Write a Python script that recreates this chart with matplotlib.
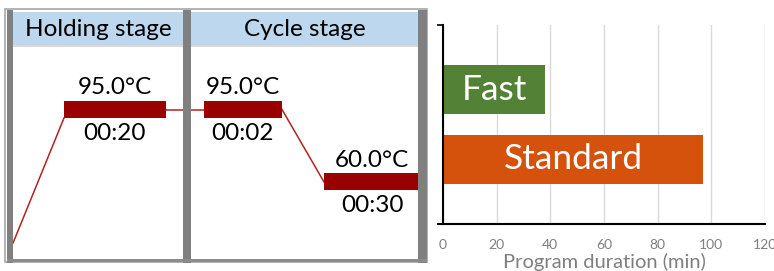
import matplotlib.pyplot as plt
from matplotlib.patches import Rectangle

plt.rcParams['font.family'] = ['Lato', 'DejaVu Sans']

# --- data ---
stage_names = ['Holding stage', 'Cycle stage']
step_temps = [95.0, 95.0, 60.0]
step_times = ['00:20', '00:02', '00:30']
start_temp = 30.5

programs = ['Standard', 'Fast']
durations = [97, 38]
program_colors = ['#D4520C', '#538135']
x_ticks = [0, 20, 40, 60, 80, 100, 120]

W, H = 774, 271
fig = plt.figure(figsize=(W / 100, H / 100), dpi=100, facecolor='white')


def px_axes(x0, y0, x1, y1, **kw):
    # axes placed with image pixel coordinates (origin top-left)
    return fig.add_axes([x0 / W, (H - y1) / H, (x1 - x0) / W, (y1 - y0) / H], **kw)


# background layer: header strip + stage titles
back = px_axes(0, 0, W, H, zorder=0)
back.set_xlim(0, W)
back.set_ylim(H, 0)
back.axis('off')
back.add_patch(Rectangle((5, 9), 422, 253, facecolor='white', edgecolor='#A6A6A6', lw=1.2))
back.add_patch(Rectangle((13, 12), 405, 33, facecolor='#BDD7EE', edgecolor='none'))
back.add_patch(Rectangle((13, 45), 405, 2, facecolor='#D9D9D9', edgecolor='none'))
stage_centers = [98, 305]
for name, cx in zip(stage_names, stage_centers):
    back.text(cx, 30, name, ha='center', va='center', fontsize=17.5, color='black')

# temperature profile
prof = px_axes(13, 47, 418, 259, zorder=1)
prof.patch.set_alpha(0)
prof.axis('off')
prof.set_xlim(13, 418)
px_per_deg = 2.071
prof.set_ylim(95 - (259 - 109.5) / px_per_deg, 95 + (109.5 - 47) / px_per_deg)
bar_h = 17 / px_per_deg
step_x = [(64, 166), (204, 282), (324, 430)]
red = '#990000'

# ramp and connecting lines
xs = [13, step_x[0][0]]
ys = [start_temp, step_temps[0] - bar_h / 2]
prof.plot(xs, ys, color='#B22222', lw=1.1, zorder=2)
for i in range(len(step_temps) - 1):
    prof.plot([step_x[i][1], step_x[i + 1][0]], [step_temps[i], step_temps[i + 1]],
              color='#B22222', lw=1.1, zorder=2)

for (x0, x1), t, tm in zip(step_x, step_temps, step_times):
    prof.barh(t, x1 - x0, left=x0, height=bar_h, color=red, zorder=3)
    cx = (x0 + min(x1, 420)) / 2
    prof.annotate(f'{t:.1f}°C', (cx, t), xytext=(0, 15.5), textcoords='offset points',
                  ha='center', va='center', fontsize=17.5, color='black')
    prof.annotate(tm, (cx, t), xytext=(0, -17), textcoords='offset points',
                  ha='center', va='center', fontsize=17.5, color='black')

# frame bars on top
front = px_axes(0, 0, W, H, zorder=2)
front.patch.set_alpha(0)
front.set_xlim(0, W)
front.set_ylim(H, 0)
front.axis('off')
for x0, x1 in [(7, 13), (183, 191), (418, 427)]:
    front.add_patch(Rectangle((x0, 10), x1 - x0, 252.5, facecolor='#808080', edgecolor='none'))
front.add_patch(Rectangle((7, 259), 420, 3, facecolor='#8C8C8C', edgecolor='none'))

# program duration chart
ax = px_axes(443, 25, 765, 224, zorder=1)
ypos = list(range(len(programs)))
ax.barh(ypos, durations, height=0.71, color=program_colors, zorder=2)
for y, d, name in zip(ypos, durations, programs):
    ax.text(d / 2, y, name, ha='center', va='center', color='white', fontsize=25.5, zorder=3)
ax.set_xlim(0, 120)
ax.set_ylim(-0.94, 1.94)
ax.set_xticks(x_ticks)
ax.set_xticklabels([str(v) for v in x_ticks])
ax.set_yticks([-0.94, 1.94])
ax.set_yticklabels([])
ax.tick_params(axis='y', length=4, width=1.2, direction='out', color='black')
ax.tick_params(axis='x', length=0, pad=11, labelsize=10, labelcolor='#7F7F7F')
ax.grid(axis='x', color='#D9D9D9', lw=1, zorder=0)
ax.set_axisbelow(True)
for s in ['top', 'right']:
    ax.spines[s].set_visible(False)
ax.spines['left'].set_linewidth(1.5)
ax.spines['bottom'].set_linewidth(1.5)
ax.spines['bottom'].set_bounds(-2, 120)
ax.set_xlabel('Program duration (min)', fontsize=14.5, color='#7F7F7F')
ax.xaxis.set_label_coords(0.5, -0.145)

fig.savefig('out.png', dpi=100, facecolor='white')
